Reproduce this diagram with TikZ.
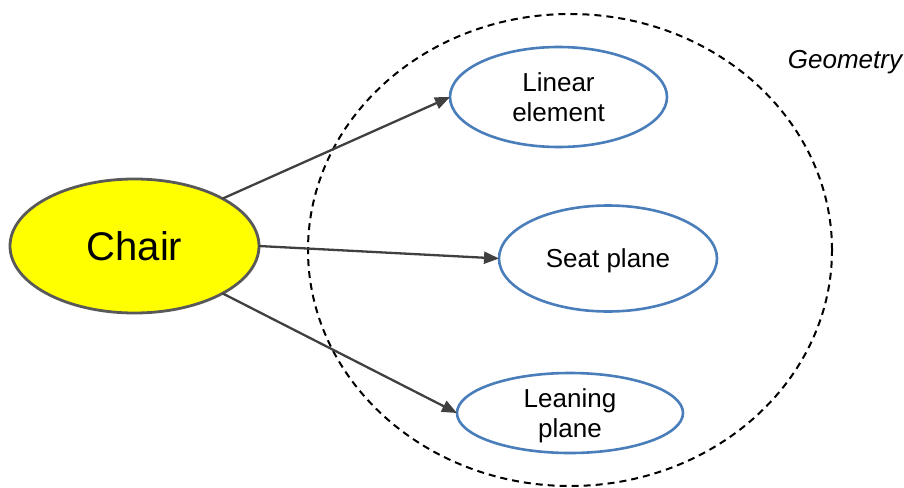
\documentclass[tikz,border=0pt]{standalone}
\usepackage{fontspec}
\setmainfont{Liberation Sans}
\usetikzlibrary{shapes.geometric,arrows.meta}
\definecolor{ovalblue}{HTML}{4A7EBB}
\definecolor{arrowgray}{HTML}{404040}
\definecolor{chairborder}{HTML}{595959}
\definecolor{chairfill}{HTML}{FFFF00}
\tikzset{
  concept/.style={ellipse, draw=ovalblue, line width=2.6pt, inner sep=0pt, outer sep=0pt,
    align=center, text depth=0pt, font={\fontsize{26}{30}\selectfont}},
  mainnode/.style={ellipse, draw=chairborder, fill=chairfill, line width=2.8pt, inner sep=0pt,
    outer sep=0pt, text depth=0pt, font={\fontsize{40}{46}\selectfont},
    minimum width=249pt, minimum height=134pt},
  link/.style={draw=arrowgray, line width=2.3pt, -{Triangle[length=15pt,width=12pt]}},
  region/.style={ellipse, draw=black, line width=2pt, dash pattern=on 7pt off 5pt,
    inner sep=0pt, outer sep=0pt, minimum width=524pt, minimum height=472pt}
}
\begin{document}
\begin{tikzpicture}[x=1pt,y=-1pt]
\useasboundingbox (0,0) rectangle (904,487);
\node[region] (geom) at (570,250) {};
\node[font={\itshape\fontsize{26}{30}\selectfont}, text depth=0pt, inner sep=0pt] (geomlabel) at (845,59.5) {Geometry};
\node[mainnode] (chair) at (134.5,246) {Chair};
\node[concept, minimum width=217pt, minimum height=100pt] (linear) at (558.5,97) {Linear\\element};
\node[concept, minimum width=218pt, minimum height=106pt] (seat) at (608,258.5) {Seat plane};
\node[concept, minimum width=226pt, minimum height=80pt] (lean) at (570,413) {Leaning\\plane};
\draw[link] (chair.north east) -- (linear.west);
\draw[link] (chair.east) -- (seat.west);
\draw[link] (chair.south east) -- (lean.west);
\end{tikzpicture}
\end{document}
